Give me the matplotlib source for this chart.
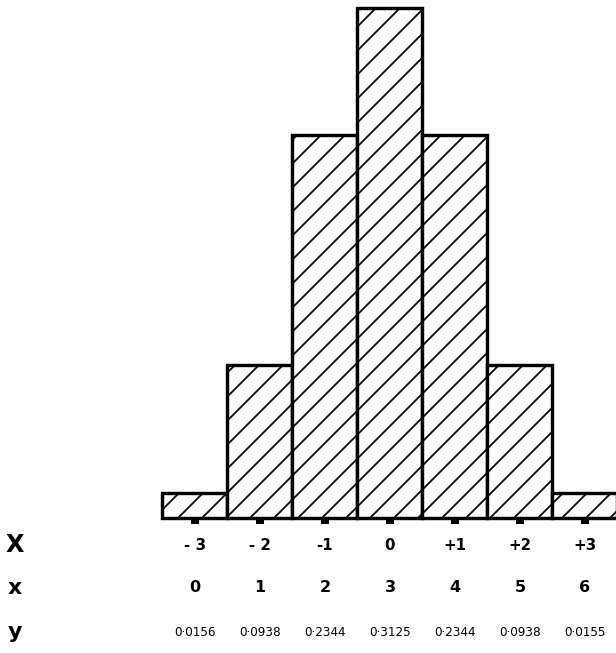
import matplotlib
matplotlib.use("Agg")
import matplotlib.pyplot as plt
from matplotlib.transforms import blended_transform_factory

# Binomial distribution, n = 6, p = 1/2
deviations = [-3, -2, -1, 0, 1, 2, 3]
dev_labels = ["- 3", "- 2", "-1", "0", "+1", "+2", "+3"]
successes = ["0", "1", "2", "3", "4", "5", "6"]
probabilities = [0.0156, 0.0938, 0.2344, 0.3125, 0.2344, 0.0938, 0.0155]
prob_labels = ["0·0156", "0·0938", "0·2344", "0·3125", "0·2344", "0·0938", "0·0155"]
row_names = ["X", "x", "y"]

DPI = 144
W, H = 616, 653
plt.rcParams["hatch.linewidth"] = 0.9
plt.rcParams["font.family"] = ["DejaVu Sans"]

fig = plt.figure(figsize=(W / DPI, H / DPI), dpi=DPI)
fig.patch.set_facecolor("white")

base_px = 135          # baseline height above the bottom edge (pixels)
peak_px = 510          # drawn height of the tallest bar (pixels)
ax = fig.add_axes([0, base_px / H, 1, (H - base_px) / H])
ax.set_facecolor("none")

ax.bar(deviations, probabilities, width=1.0, facecolor="white",
       edgecolor="black", hatch="//", linewidth=1.7, clip_on=False, zorder=2)

ax.set_xlim(-6.0, 3.477)
ax.set_ylim(0, max(probabilities) * (H - base_px) / peak_px)
for s in ax.spines.values():
    s.set_visible(False)
ax.set_yticks([])
ax.set_xticks(deviations)
ax.set_xticklabels([])
ax.tick_params(axis="x", direction="out", length=3, width=4, color="black")

# Table rows under the histogram
tr = blended_transform_factory(ax.transData, fig.transFigure)
row_y = [1 - 545 / H, 1 - 588 / H, 1 - 632 / H]
for xv, a, b, c in zip(deviations, dev_labels, successes, prob_labels):
    ax.text(xv, row_y[0], a, transform=tr, ha="center", va="center",
            fontsize=7.5, fontweight="bold", clip_on=False)
    ax.text(xv, row_y[1], b, transform=tr, ha="center", va="center",
            fontsize=8, fontweight="bold", clip_on=False)
    ax.text(xv, row_y[2], c, transform=tr, ha="center", va="center",
            fontsize=6, clip_on=False)

for name, y, fs in zip(row_names, row_y, [12, 11, 11]):
    fig.text(15 / W, y, name, ha="center", va="center",
             fontsize=fs, fontweight="bold")

fig.savefig("out.png", dpi=DPI, facecolor="white")
